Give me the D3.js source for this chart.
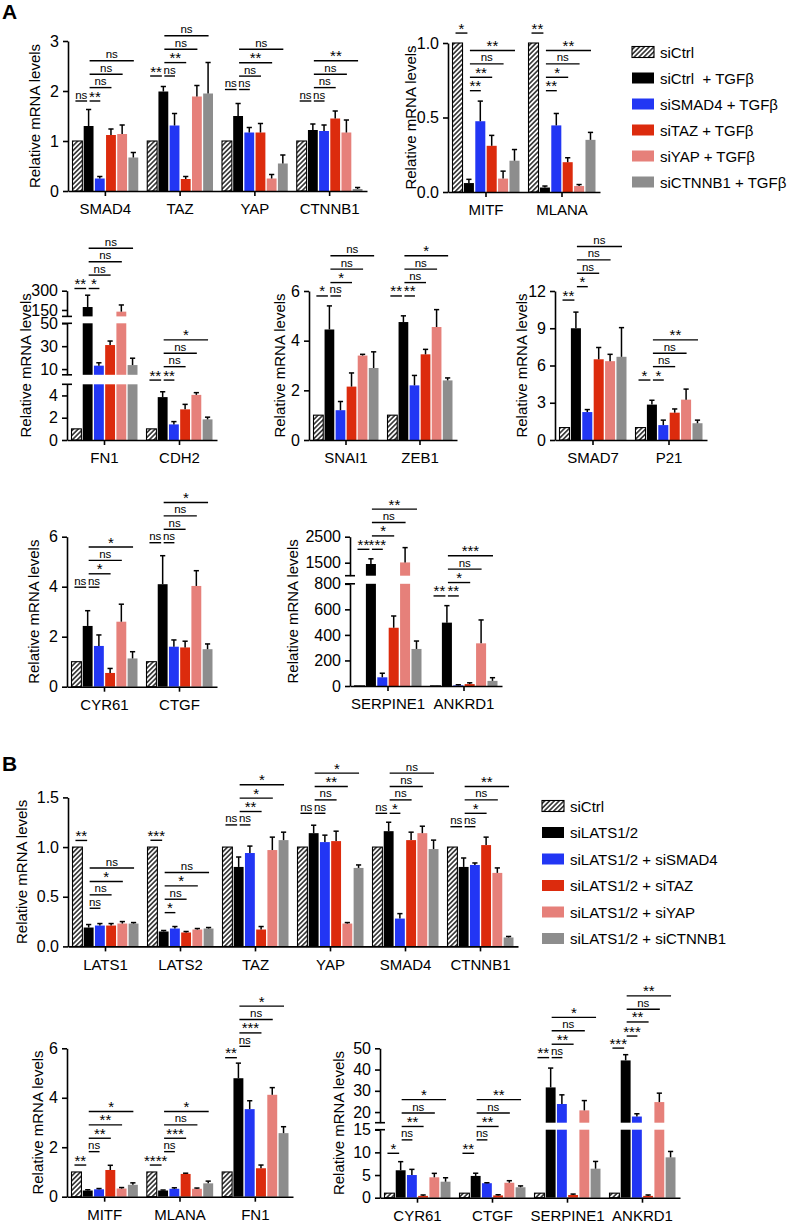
<!DOCTYPE html>
<html>
<head>
<meta charset="utf-8">
<script src="https://cdn.jsdelivr.net/npm/d3@7"></script>
<style>
body { margin: 0; background: #fff; }
svg { font-family: "Liberation Sans", Arial, sans-serif; }
</style>
</head>
<body>
<svg id="fig" width="794" height="1223"></svg>
<script>
// six conditions per gene, in this order
const condColors = ["url(#hatch)", "#000000", "#2236f4", "#dc2b0d", "#e6807a", "#8d8d8d"];
const legendA = ["siCtrl", "siCtrl  + TGFβ", "siSMAD4 + TGFβ", "siTAZ + TGFβ", "siYAP + TGFβ", "siCTNNB1 + TGFβ"];
const legendB = ["siCtrl", "siLATS1/2", "siLATS1/2 + siSMAD4", "siLATS1/2 + siTAZ", "siLATS1/2 + siYAP", "siLATS1/2 + siCTNNB1"];

// sig rows: [gene index, bar from, bar to, label, stack level]
// sigBase: height of the lowest bracket, in units of the lowest axis segment

// ---- A, row 1
const geneA1 = ["SMAD4", "TAZ", "YAP", "CTNNB1"];
const meanA1 = [[1, 1.30, 0.25, 1.12, 1.14, 0.67], [1, 1.99, 1.31, 0.24, 1.89, 1.95], [1, 1.50, 1.17, 1.17, 0.25, 0.55], [1, 1.22, 1.20, 1.45, 1.17, 0.04]];
const semA1 = [[0, 0.33, 0.04, 0.12, 0.18, 0.10], [0, 0.10, 0.24, 0.05, 0.22, 0.62], [0, 0.25, 0.10, 0.18, 0.08, 0.17], [0, 0.12, 0.12, 0.15, 0.25, 0.03]];
const domA1 = [[0, 3]], tickA1 = [[0, 1, 2, 3]];
const sigBaseA1 = [1.8, 2.3, 2.03, 1.8];
const sigA1 = [
  [0,0,1,"ns",0],[0,1,2,"**",0],[0,1,3,"ns",1],[0,1,4,"ns",2],[0,1,5,"ns",3],
  [1,0,1,"**",0],[1,1,2,"ns",0],[1,1,3,"**",1],[1,1,4,"ns",2],[1,1,5,"ns",3],
  [2,0,1,"ns",0],[2,1,2,"ns",0],[2,1,3,"ns",1],[2,1,4,"**",2],[2,1,5,"ns",3],
  [3,0,1,"ns",0],[3,1,2,"ns",0],[3,1,3,"ns",1],[3,1,4,"ns",2],[3,1,5,"**",3]];

const geneA2 = ["MITF", "MLANA"];
const meanA2 = [[1, 0.06, 0.475, 0.31, 0.09, 0.21], [1, 0.03, 0.447, 0.20, 0.04, 0.35]];
const semA2 = [[0, 0.025, 0.135, 0.07, 0.05, 0.075], [0, 0.01, 0.08, 0.03, 0.01, 0.05]];
const domA2 = [[0, 1]], tickA2 = [[0, 0.5, 1]];
const sigBaseA2 = [0.68, 0.68];
const sigA2 = [
  [0,0,1,"*",4.3],[0,1,2,"**",0],[0,1,3,"**",1],[0,1,4,"ns",2],[0,1,5,"**",3],
  [1,0,1,"**",4.3],[1,1,2,"**",0],[1,1,3,"*",1],[1,1,4,"ns",2],[1,1,5,"**",3]];

// ---- A, row 2
const geneA3 = ["FN1", "CDH2"];
const meanA3 = [[1, 173, 13, 31, 137, 13.5], [1, 3.85, 1.4, 2.75, 4.05, 1.85]];
const semA3 = [[0, 92, 2.5, 3.5, 52, 6], [0, 0.48, 0.25, 0.45, 0.2, 0.2]];
const domA3 = [[0, 5], [5, 50], [100, 300]], tickA3 = [[0, 2, 4], [10, 30, 50], [150, 300]];
const sigBaseA3 = [13.6, 5.38];
const sigA3 = [
  [0,0,1,"**",0],[0,1,2,"*",0],[0,1,3,"ns",1],[0,1,4,"ns",2],[0,1,5,"ns",3],
  [1,0,1,"**",0],[1,1,2,"**",0],[1,1,3,"ns",1],[1,1,4,"ns",2],[1,1,5,"*",3]];

const geneA4 = ["SNAI1", "ZEB1"];
const meanA4 = [[1, 4.45, 1.2, 2.15, 3.4, 2.9], [1, 4.75, 2.2, 3.45, 4.55, 2.4]];
const semA4 = [[0, 0.95, 0.35, 0.55, 0.05, 0.65], [0, 0.25, 0.4, 0.2, 0.7, 0.1]];
const domA4 = [[0, 6]], tickA4 = [[0, 2, 4, 6]];
const sigBaseA4 = [5.8, 5.8];
const sigA4 = [
  [0,0,1,"*",0],[0,1,2,"ns",0],[0,1,3,"*",1],[0,1,4,"ns",2],[0,1,5,"ns",3],
  [1,0,1,"**",0],[1,1,2,"**",0],[1,1,3,"ns",1],[1,1,4,"ns",2],[1,1,5,"*",3]];

const geneA5 = ["SMAD7", "P21"];
const meanA5 = [[1, 9.0, 2.25, 6.5, 6.35, 6.7], [1, 2.85, 1.2, 2.2, 3.25, 1.35]];
const semA5 = [[0, 1.3, 0.2, 0.95, 0.55, 2.35], [0, 0.35, 0.4, 0.3, 0.85, 0.25]];
const domA5 = [[0, 12]], tickA5 = [[0, 3, 6, 9, 12]];
const sigBaseA5 = [11.27, 4.83];
const sigA5 = [
  [0,0,1,"**",0],[0,1,2,"*",1],[0,1,3,"ns",2],[0,1,4,"ns",3],[0,1,5,"ns",4],
  [1,0,1,"*",0],[1,1,2,"*",0],[1,1,3,"ns",1],[1,1,4,"ns",2],[1,1,5,"**",3]];

// ---- A, row 3
const geneA6 = ["CYR61", "CTGF"];
const meanA6 = [[1, 2.43, 1.63, 0.55, 2.6, 1.13], [1, 4.1, 1.6, 1.57, 4.03, 1.5]];
const semA6 = [[0, 0.61, 0.44, 0.18, 0.7, 0.27], [0, 1.14, 0.27, 0.25, 0.61, 0.21]];
const domA6 = [[0, 6]], tickA6 = [[0, 2, 4, 6]];
const sigBaseA6 = [3.98, 5.76];
const sigA6 = [
  [0,0,1,"ns",0],[0,1,2,"ns",0],[0,1,3,"*",1],[0,1,4,"ns",2],[0,1,5,"*",3],
  [1,0,1,"ns",0],[1,1,2,"ns",0],[1,1,3,"ns",1],[1,1,4,"ns",2],[1,1,5,"*",3]];

const geneA7 = ["SERPINE1", "ANKRD1"];
const meanA7 = [[1, 1450, 68, 456, 1510, 290], [1, 496, 5, 15, 334, 40]];
const semA7 = [[0, 200, 32, 92, 570, 62], [0, 133, 5, 10, 183, 25]];
const domA7 = [[0, 800], [1000, 2500]], tickA7 = [[0, 200, 400, 600, 800], [1500, 2500]];
const sigBaseA7 = [1070, 705];
const sigA7 = [
  [0,0,1,"**",0],[0,1,2,"***",0],[0,1,3,"*",1],[0,1,4,"ns",2],[0,1,5,"**",3],
  [1,0,1,"**",0],[1,1,2,"**",0],[1,1,3,"*",1],[1,1,4,"ns",2],[1,1,5,"***",3]];

// ---- B
const geneB1 = ["LATS1", "LATS2", "TAZ", "YAP", "SMAD4", "CTNNB1"];
const meanB1 = [[1, 0.19, 0.21, 0.21, 0.23, 0.23], [1, 0.15, 0.18, 0.14, 0.17, 0.18], [1, 0.80, 0.94, 0.17, 0.97, 1.07],
  [1, 1.14, 1.05, 1.06, 0.23, 0.79], [1, 1.16, 0.28, 1.07, 1.14, 0.98], [1, 0.80, 0.82, 1.02, 0.74, 0.09]];
const semB1 = [[0, 0.03, 0.02, 0.02, 0.02, 0.01], [0, 0.01, 0.02, 0.01, 0.01, 0.01], [0, 0.10, 0.07, 0.03, 0.13, 0.08],
  [0, 0.08, 0.07, 0.10, 0.01, 0.03], [0, 0.09, 0.05, 0.08, 0.07, 0.09], [0, 0.09, 0.02, 0.08, 0.05, 0.01]];
const domB1 = [[0, 1.5]], tickB1 = [[0, 0.5, 1, 1.5]];
const sigBaseB1 = [0.384, 0.34, 1.223, 1.34, 1.34, 1.205];
const sigB1 = [
  [0,0,1,"**",5.06],[0,1,2,"ns",0],[0,1,3,"ns",1],[0,1,4,"*",2],[0,1,5,"ns",3],
  [1,0,1,"***",5.4],[1,1,2,"*",0],[1,1,3,"ns",1],[1,1,4,"*",2],[1,1,5,"ns",3],
  [2,0,1,"ns",0],[2,1,2,"ns",0],[2,1,3,"**",1],[2,1,4,"*",2],[2,1,5,"*",3],
  [3,0,1,"ns",0],[3,1,2,"ns",0],[3,1,3,"ns",1],[3,1,4,"**",2],[3,1,5,"*",3],
  [4,0,1,"ns",0],[4,1,2,"*",0],[4,1,3,"ns",1],[4,1,4,"ns",2],[4,1,5,"ns",3],
  [5,0,1,"ns",0],[5,1,2,"ns",0],[5,1,3,"*",1],[5,1,4,"ns",2],[5,1,5,"**",3]];

const geneB2 = ["MITF", "MLANA", "FN1"];
const meanB2 = [[1, 0.25, 0.30, 1.08, 0.33, 0.48], [1, 0.25, 0.32, 0.92, 0.32, 0.54], [1, 4.79, 3.54, 1.15, 4.12, 2.57]];
const semB2 = [[0, 0.03, 0.03, 0.19, 0.04, 0.08], [0, 0.02, 0.04, 0.03, 0.03, 0.09], [0, 0.61, 0.34, 0.13, 0.29, 0.26]];
const domB2 = [[0, 6]], tickB2 = [[0, 2, 4, 6]];
const sigBaseB2 = [1.28, 1.28, 5.62];
const sigB2 = [
  [0,0,1,"**",0],[0,1,2,"ns",1],[0,1,3,"**",2],[0,1,4,"**",3],[0,1,5,"*",4],
  [1,0,1,"****",0],[1,1,2,"ns",1],[1,1,3,"***",2],[1,1,4,"ns",3],[1,1,5,"*",4],
  [2,0,1,"**",0],[2,1,2,"ns",0.85],[2,1,3,"***",1.85],[2,1,4,"ns",2.85],[2,1,5,"*",3.85]];

const geneB3 = ["CYR61", "CTGF", "SERPINE1", "ANKRD1"];
const meanB3 = [[1, 6.05, 5.0, 0.4, 4.5, 3.53], [1, 4.8, 3.2, 0.5, 3.3, 2.3], [1, 31.6, 23.8, 0.6, 20.8, 6.4], [1, 44.3, 17.9, 0.4, 24.7, 8.9]];
const semB3 = [[0, 1.9, 1.25, 0.2, 0.87, 0.87], [0, 0.6, 0.1, 0.15, 0.45, 0.3], [0, 9.1, 4.3, 0.2, 4.6, 1.6], [0, 2.7, 1.3, 0.2, 4.2, 1.3]];
const domB3 = [[0, 15], [15, 50]], tickB3 = [[0, 5, 10, 15], [20, 30, 40, 50]];
const sigBaseB3 = [9.8, 9.8, 30.9, 33];
const sigB3 = [
  [0,0,1,"*",0],[0,1,2,"ns",1],[0,1,3,"**",2],[0,1,4,"ns",3],[0,1,5,"*",4],
  [1,0,1,"**",0],[1,1,2,"ns",1],[1,1,3,"**",2],[1,1,4,"ns",3],[1,1,5,"**",4],
  [2,0,1,"**",0],[2,1,2,"ns",0],[2,1,3,"**",1],[2,1,4,"ns",2],[2,1,5,"*",3],
  [3,0,1,"***",0],[3,1,2,"***",0.9],[3,1,3,"**",1.95],[3,1,4,"ns",2.9],[3,1,5,"**",3.9]];

// where each chart sits on the page
const charts = [
  {genes: geneA1, means: meanA1, sems: semA1, doms: domA1, ticks: tickA1, sig: sigA1, sigBase: sigBaseA1, fmt: "d", x0: 68, x1: 367, ranges: [[191, 41]], labOff: 34},
  {genes: geneA2, means: meanA2, sems: semA2, doms: domA2, ticks: tickA2, sig: sigA2, sigBase: sigBaseA2, fmt: ".1f", x0: 448, x1: 600, ranges: [[192, 43]], labOff: 37.5},
  {genes: geneA3, means: meanA3, sems: semA3, doms: domA3, ticks: tickA3, sig: sigA3, sigBase: sigBaseA3, fmt: "d", x0: 67, x1: 217, ranges: [[440, 384.3], [374.8, 323.3], [316.4, 290.7]], labOff: 42},
  {genes: geneA4, means: meanA4, sems: semA4, doms: domA4, ticks: tickA4, sig: sigA4, sigBase: sigBaseA4, fmt: "d", x0: 309, x1: 457, ranges: [[440, 291]], labOff: 30},
  {genes: geneA5, means: meanA5, sems: semA5, doms: domA5, ticks: tickA5, sig: sigA5, sigBase: sigBaseA5, fmt: "d", x0: 555, x1: 707, ranges: [[440, 291]], labOff: 34},
  {genes: geneA6, means: meanA6, sems: semA6, doms: domA6, ticks: tickA6, sig: sigA6, sigBase: sigBaseA6, fmt: "d", x0: 67, x1: 217, ranges: [[686.7, 536.7]], labOff: 34},
  {genes: geneA7, means: meanA7, sems: semA7, doms: domA7, ticks: tickA7, sig: sigA7, sigBase: sigBaseA7, fmt: "d", x0: 350, x1: 502, ranges: [[686, 583.8], [575.7, 536.7]], labOff: 58},
  {genes: geneB1, means: meanB1, sems: semB1, doms: domB1, ticks: tickB1, sig: sigB1, sigBase: sigBaseB1, fmt: ".1f", x0: 68, x1: 518, ranges: [[946.4, 797.4]], labOff: 47},
  {genes: geneB2, means: meanB2, sems: semB2, doms: domB2, ticks: tickB2, sig: sigB2, sigBase: sigBaseB2, fmt: "d", x0: 67, x1: 293, ranges: [[1196.7, 1048.3]], labOff: 30},
  {genes: geneB3, means: meanB3, sems: semB3, doms: domB3, ticks: tickB3, sig: sigB3, sigBase: sigBaseB3, fmt: "d", x0: 380, x1: 680, ranges: [[1197.7, 1129.7], [1122.7, 1048.3]], labOff: 42}
];

const svg = d3.select("#fig");
const sigStep = 13.4;

let pat = svg.append("defs").append("pattern")
  .attr("id", "hatch").attr("patternUnits", "userSpaceOnUse")
  .attr("width", 3.4).attr("height", 3.4).attr("patternTransform", "rotate(45)");
pat.append("rect").attr("width", 3.4).attr("height", 3.4).attr("fill", "#fff");
pat.append("line").attr("x1", 1.7).attr("x2", 1.7).attr("y1", 0).attr("y2", 3.4)
  .attr("stroke", "#000").attr("stroke-width", 1.3);

function drawChart(c) {
  let g = svg.append("g");
  let x = d3.scaleBand().domain(c.genes).range([c.x0, c.x1]);
  let xb = d3.scaleBand().domain(d3.range(6)).range([4.5, x.bandwidth() - 4.5]).paddingInner(0.12);
  let segs = c.doms.map((d, i) => ({d: d, s: d3.scaleLinear().domain(d).range(c.ranges[i]), t: c.ticks[i]}));
  let yLow = segs[0].s;
  let segFor = v => segs.find(s => v <= s.d[1]) || segs[segs.length - 1];
  let cx = (gi, i) => x(c.genes[gi]) + xb(i) + xb.bandwidth() / 2;

  let rows = c.genes.flatMap((gene, gi) => c.means[gi].map((v, i) => ({gi: gi, i: i, v: v, e: c.sems[gi][i]})));

  // bars, split over the axis segments
  let pieces = rows.flatMap(r => segs.filter(s => r.v > s.d[0]).map(s => ({r: r, s: s, top: Math.min(r.v, s.d[1])})));
  g.selectAll("rect.bar").data(pieces).join("rect")
    .attr("class", "bar")
    .attr("x", p => x(c.genes[p.r.gi]) + xb(p.r.i))
    .attr("width", xb.bandwidth())
    .attr("y", p => p.s.s(p.top))
    .attr("height", p => p.s.s(p.s.d[0]) - p.s.s(p.top))
    .attr("fill", p => condColors[p.r.i])
    .attr("stroke", p => p.r.i === 0 ? "#000" : "none")
    .attr("stroke-width", 1.1);

  // error bars (upper only)
  let errs = rows.filter(r => r.e > 0).map(r => {
    let s = segFor(r.v + r.e);
    return {x: cx(r.gi, r.i), y1: s.s(Math.max(r.v, s.d[0])), y2: s.s(r.v + r.e)};
  });
  g.selectAll("line.err").data(errs).join("line")
    .attr("class", "err")
    .attr("x1", d => d.x).attr("x2", d => d.x)
    .attr("y1", d => d.y1).attr("y2", d => d.y2)
    .attr("stroke", "#000").attr("stroke-width", 1.5);
  g.selectAll("line.cap").data(errs).join("line")
    .attr("class", "cap")
    .attr("x1", d => d.x - 2.6).attr("x2", d => d.x + 2.6)
    .attr("y1", d => d.y2).attr("y2", d => d.y2)
    .attr("stroke", "#000").attr("stroke-width", 1.5);

  // y axis, one piece per segment
  segs.forEach((s, k) => {
    let ax = g.append("g").attr("transform", `translate(${c.x0},0)`)
      .call(d3.axisLeft(s.s).tickValues(s.t).tickSize(5).tickSizeOuter(0).tickPadding(4).tickFormat(d3.format(c.fmt)));
    ax.attr("font-family", null).attr("font-size", 16);
    ax.selectAll("path, line").attr("stroke-width", 1.6);
    if (segs.length > 1) {
      let marks = [];
      if (k > 0) marks.push(s.s(s.d[0]));
      if (k < segs.length - 1) marks.push(s.s(s.d[1]));
      marks.forEach(y => ax.append("line").attr("x1", -5).attr("x2", 5).attr("y1", y).attr("y2", y)
        .attr("stroke", "#000").attr("stroke-width", 1.6));
    }
  });

  // x axis
  let xa = g.append("g").attr("transform", `translate(0,${yLow(0)})`)
    .call(d3.axisBottom(x).tickSize(5).tickSizeOuter(0).tickPadding(7.5));
  xa.attr("font-family", null).attr("font-size", 15);
  xa.selectAll("path, line").attr("stroke-width", 1.6);

  // y title
  let top = segs[segs.length - 1].s.range()[1], bottom = yLow(0);
  g.append("text")
    .attr("transform", `translate(${c.x0 - c.labOff},${(top + bottom) / 2}) rotate(-90)`)
    .attr("text-anchor", "middle").attr("dominant-baseline", "central")
    .attr("font-size", 15).text("Relative mRNA levels");

  // significance brackets
  let br = c.sig.map(([gi, a, b, label, lvl]) => ({
    x1: a === 0 ? cx(gi, 0) - 2 : cx(gi, 1) + 1,
    x2: cx(gi, b) + (b === 1 ? -1.5 : 0.5),
    y: yLow(c.sigBase[gi]) - lvl * sigStep,
    label: label
  }));
  g.selectAll("line.sig").data(br).join("line")
    .attr("class", "sig")
    .attr("x1", d => d.x1).attr("x2", d => d.x2)
    .attr("y1", d => d.y).attr("y2", d => d.y)
    .attr("stroke", "#000").attr("stroke-width", 1.4);
  g.selectAll("text.sig").data(br).join("text")
    .attr("class", "sig")
    .attr("x", d => (d.x1 + d.x2) / 2)
    .attr("y", d => d.label === "ns" ? d.y - 2.5 : d.y + 0.5)
    .attr("text-anchor", "middle")
    .attr("font-size", d => d.label === "ns" ? 11.5 : 15)
    .text(d => d.label);
}

charts.forEach(drawChart);

function drawLegend(labels, x, y0, step) {
  let lg = svg.append("g");
  let item = lg.selectAll("g").data(labels).join("g")
    .attr("transform", (d, i) => `translate(${x},${y0 + i * step})`);
  item.append("rect").attr("x", 0).attr("y", -5.5).attr("width", 22).attr("height", 11)
    .attr("fill", (d, i) => condColors[i])
    .attr("stroke", (d, i) => i === 0 ? "#000" : "none").attr("stroke-width", 1.1);
  item.append("text").attr("x", 28).attr("dominant-baseline", "central")
    .attr("font-size", 15).style("white-space", "pre").text(d => d);
}
drawLegend(legendA, 632, 52, 26);
drawLegend(legendB, 542, 806, 26.5);

svg.append("text").attr("x", 2).attr("y", 19).attr("font-size", 21).attr("font-weight", "bold").text("A");
svg.append("text").attr("x", 2).attr("y", 771).attr("font-size", 21).attr("font-weight", "bold").text("B");
</script>
</body>
</html>
